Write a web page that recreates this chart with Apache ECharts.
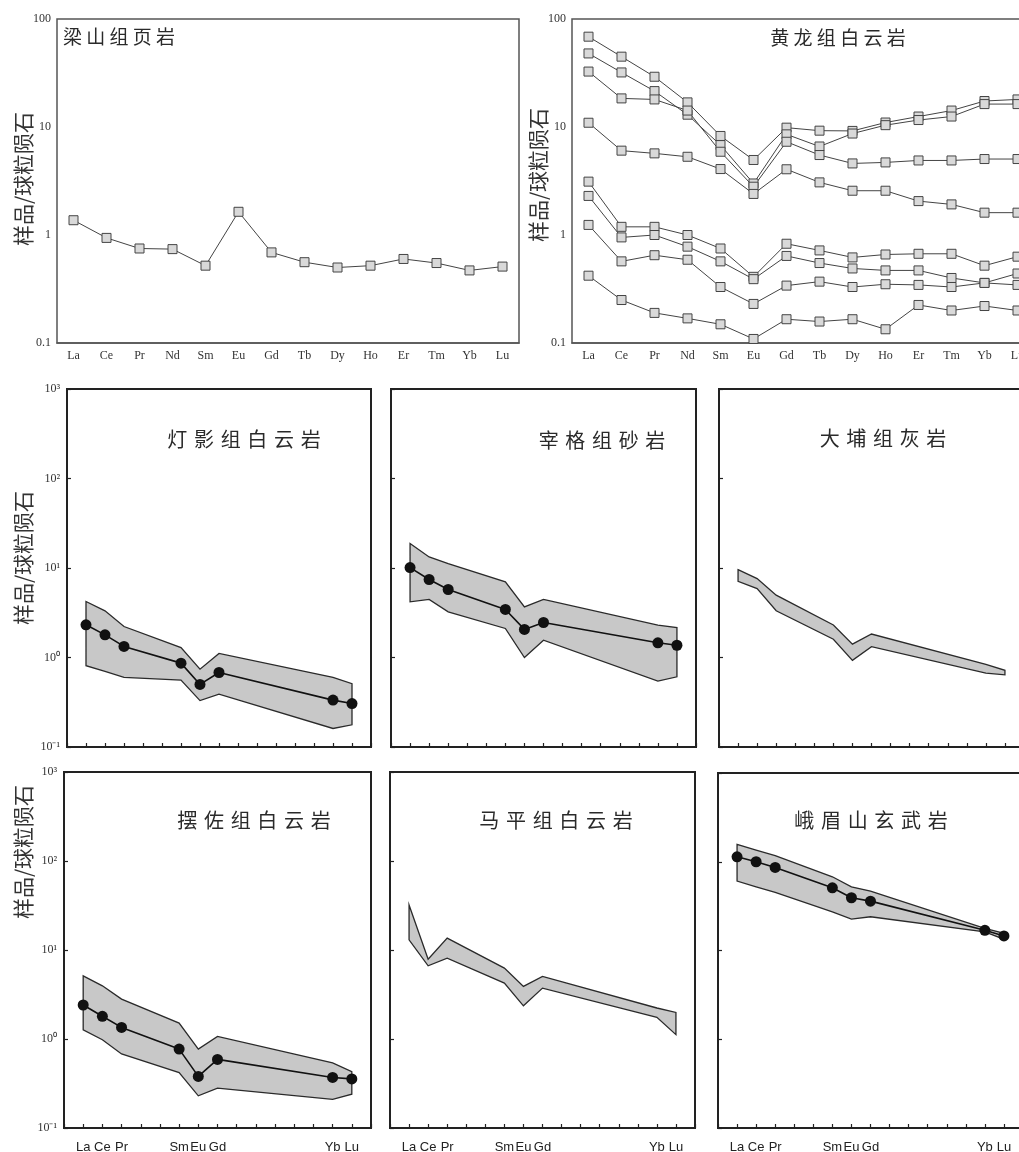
<!DOCTYPE html>
<html><head><meta charset="utf-8">
<script src="https://cdn.jsdelivr.net/npm/echarts@6/dist/echarts.min.js"></script>
<style>html,body{margin:0;padding:0;background:#fff}#c{width:1019px;height:1152px}</style>
</head><body><div id="c"></div>
<script>
// ---------- data ----------
const REE = ['La','Ce','Pr','Nd','Sm','Eu','Gd','Tb','Dy','Ho','Er','Tm','Yb','Lu'];
const topTickLabels = ['0.1','1','10','100'];
const powLabels = ['10\u207B\u00B9','10\u2070','10\u00B9','10\u00B2','10\u00B3'];

const liangshan = [1.37,0.94,0.75,0.74,0.52,1.64,0.69,0.56,0.50,0.52,0.60,0.55,0.47,0.51];

const huanglong1 = [68.6,44.8,29.2,16.9,8.26,4.95,9.86,9.25,9.2,11.0,12.5,14.2,17.4,18.0];
const huanglong2 = [48.0,32.0,21.5,13.0,6.8,3.0,8.55,6.6,8.7,10.4,11.6,12.5,16.3,16.3];
const huanglong3 = [32.6,18.4,18.0,14.2,5.9,2.8,7.3,5.5,4.6,4.7,4.9,4.9,5.05,5.05];
const huanglong4 = [10.95,6.04,5.7,5.3,4.08,2.4,4.06,3.07,2.57,2.57,2.06,1.92,1.61,1.61];
const huanglong5 = [3.12,1.19,1.19,1.0,0.75,0.41,0.83,0.72,0.62,0.66,0.67,0.67,0.52,0.63];
const huanglong6 = [2.30,0.95,1.0,0.78,0.57,0.39,0.64,0.55,0.49,0.47,0.47,0.40,0.36,0.44];
const huanglong7 = [1.24,0.57,0.65,0.59,0.33,0.23,0.34,0.37,0.33,0.35,0.345,0.33,0.36,0.345];
const huanglong8 = [0.42,0.25,0.19,0.169,0.149,0.109,0.166,0.158,0.166,0.134,0.225,0.20,0.22,0.20];

// atomic numbers of the plotted elements and their labels
const bandZ = [57,58,59,62,63,64,70,71];
const bandLabels = ['La','Ce','Pr','Sm','Eu','Gd','Yb','Lu'];

const dengyingMean  = [2.32,1.79,1.33,0.865,0.50,0.68,0.334,0.306];
const dengyingUpper = [4.22,3.32,2.22,1.29,0.74,1.11,0.60,0.51];
const dengyingLower = [0.81,0.70,0.60,0.56,0.33,0.39,0.161,0.177];

const zaigeMean  = [10.1,7.44,5.75,3.44,2.06,2.46,1.46,1.37];
const zaigeUpper = [18.8,13.3,11.2,7.0,3.68,4.45,2.30,2.16];
const zaigeLower = [4.19,4.45,3.24,2.11,1.0,1.56,0.544,0.608];

const dapuUpper = [9.58,7.61,4.97,2.31,1.41,1.83,0.84,0.72];
const dapuLower = [7.11,5.89,3.33,1.60,0.93,1.32,0.67,0.64];

const baizuoMean  = [2.41,1.80,1.35,0.77,0.38,0.59,0.37,0.356];
const baizuoUpper = [5.13,3.96,2.81,1.51,0.77,1.07,0.54,0.43];
const baizuoLower = [1.27,0.98,0.68,0.42,0.23,0.28,0.21,0.24];

const mapingUpper = [32.1,7.89,13.6,6.26,3.9,5.05,2.23,1.99];
const mapingLower = [13.0,6.64,8.09,4.25,2.36,3.73,1.75,1.12];

const emeiMean  = [113.8,100,86.3,50.9,39.3,36.0,16.9,14.6];
const emeiUpper = [157,135,117,67.7,52.2,46.7,17.7,15.6];
const emeiLower = [60.5,52.2,45.1,27.3,22.6,24.0,16.2,13.4];

// ---------- layout ----------
const grids = [
  {left:57,  top:19,  width:462, height:324},
  {left:572, top:19,  width:462, height:324},
  {left:67,  top:389, width:304, height:358},
  {left:391, top:389, width:305, height:358},
  {left:719, top:389, width:305, height:358},
  {left:64,  top:772, width:307, height:356},
  {left:390, top:772, width:305, height:356},
  {left:718, top:773, width:305, height:355}
];

const xAxes = [], yAxes = [];
grids.forEach((g, i) => {
  g.outerBoundsMode = 'none';
  g.containLabel = false;
  if (i < 2) {
    g.show = true; g.borderColor = '#555'; g.borderWidth = 1.5;
    xAxes.push({gridIndex:i, type:'category', data:REE, boundaryGap:true,
      axisLine:{lineStyle:{color:'#555', width:1.5}},
      axisTick:{inside:true, length:3, interval:0, lineStyle:{color:'#555'}},
      axisLabel:{interval:0, fontFamily:'Liberation Serif', fontSize:12, color:'#333', margin:7}});
    yAxes.push({gridIndex:i, type:'log', logBase:10, min:0.1, max:100,
      axisLine:{lineStyle:{color:'#555', width:1.5}},
      axisTick:{show:false}, splitLine:{show:false},
      axisLabel:{fontFamily:'Liberation Serif', fontSize:12, color:'#333', margin:6,
        formatter: v => topTickLabels[Math.round(Math.log10(v)) + 1]}});
  } else {
    g.show = true; g.borderColor = '#222'; g.borderWidth = 2;
    const bottomRow = i >= 5;
    const firstCol = (i === 2 || i === 5);
    xAxes.push({gridIndex:i, type:'value', min:56, max:72, interval:1,
      axisLine:{lineStyle:{color:'#222', width:2}},
      axisTick:{inside:true, length:4, lineStyle:{color:'#222', width:1.2}},
      splitLine:{show:false},
      axisLabel:{show:bottomRow, fontFamily:'Liberation Sans', fontSize:13, color:'#222', margin:13,
        formatter: v => { const k = bandZ.indexOf(v); return k >= 0 ? bandLabels[k] : ''; }}});
    yAxes.push({gridIndex:i, type:'log', logBase:10, min:0.1, max:1000,
      axisLine:{lineStyle:{color:'#222', width:2}},
      axisTick:{inside:true, length:4, lineStyle:{color:'#222', width:1.2}},
      splitLine:{show:false},
      axisLabel:{show:firstCol, fontFamily:'Liberation Serif', fontSize:12, color:'#333', margin:7,
        formatter: v => powLabels[Math.round(Math.log10(v)) + 1]}});
  }
});

const series = [];
function squareLine(gi, arr) {
  series.push({type:'line', xAxisIndex:gi, yAxisIndex:gi, data:arr,
    symbol:'rect', symbolSize:9, showSymbol:true,
    lineStyle:{color:'#444', width:1},
    itemStyle:{color:'#d9d9d9', borderColor:'#444', borderWidth:1},
    emphasis:{disabled:true}, z:3, animation:false});
}
function band(gi, upper, lower) {
  series.push({type:'custom', xAxisIndex:gi, yAxisIndex:gi, coordinateSystem:'cartesian2d',
    data: bandZ.map((z, k) => [z, upper[k], lower[k]]),
    encode:{x:0, y:[1,2]}, z:2, animation:false, silent:true,
    renderItem: (params, api) => {
      if (params.dataIndexInside !== 0) return null;
      const n = params.dataInsideLength, pts = [];
      for (let k = 0; k < n; k++) pts.push(api.coord([api.value(0, k), api.value(1, k)]));
      for (let k = n - 1; k >= 0; k--) pts.push(api.coord([api.value(0, k), api.value(2, k)]));
      return {type:'polygon', shape:{points:pts},
        style:{fill:'#c8c8c8', stroke:'#2a2a2a', lineWidth:1.3}};
    }});
}
function meanLine(gi, arr) {
  series.push({type:'line', xAxisIndex:gi, yAxisIndex:gi,
    data: bandZ.map((z, k) => [z, arr[k]]),
    symbol:'circle', symbolSize:11, showSymbol:true,
    lineStyle:{color:'#111', width:1.6},
    itemStyle:{color:'#111'}, emphasis:{disabled:true}, z:4, animation:false});
}

squareLine(0, liangshan);
[huanglong1,huanglong2,huanglong3,huanglong4,huanglong5,huanglong6,huanglong7,huanglong8]
  .forEach(a => squareLine(1, a));
band(2, dengyingUpper, dengyingLower); meanLine(2, dengyingMean);
band(3, zaigeUpper, zaigeLower);       meanLine(3, zaigeMean);
band(4, dapuUpper, dapuLower);
band(5, baizuoUpper, baizuoLower);     meanLine(5, baizuoMean);
band(6, mapingUpper, mapingLower);
band(7, emeiUpper, emeiLower);         meanLine(7, emeiMean);

// ---------- texts ----------
const sp = '\u2004';
function title(text, x, y, size, align, gap) {
  return {type:'text', x:x, y:y, silent:true, z:10,
    style:{text: text.split('').join(gap), fontFamily:'Noto Sans CJK SC', fontSize:size,
      fill:'#2a2a2a', align:align, textAlign:align, verticalAlign:'middle', textVerticalAlign:'middle'}};
}
function yName(x, y) {
  return {type:'text', x:x, y:y, rotation:Math.PI/2, silent:true, z:10,
    style:{text:'样品/球粒陨石', fontFamily:'Noto Sans CJK SC', fontSize:21, fill:'#333',
      align:'center', textAlign:'center', verticalAlign:'middle', textVerticalAlign:'middle'}};
}
const graphics = [
  title('梁山组页岩', 63, 37, 19, 'left', ' '),
  title('黄龙组白云岩', 838, 38, 19, 'center', ' '),
  title('灯影组白云岩', 244, 439, 20, 'center', sp),
  title('宰格组砂岩', 602, 440, 20, 'center', sp),
  title('大埔组灰岩', 883, 438, 20, 'center', sp),
  title('摆佐组白云岩', 254, 820, 20, 'center', sp),
  title('马平组白云岩', 556, 820, 20, 'center', sp),
  title('峨眉山玄武岩', 871, 820, 20, 'center', sp),
  yName(23, 179), yName(538, 175), yName(23, 558), yName(23, 852)
];

const chart = echarts.init(document.getElementById('c'), null, {renderer:'canvas'});
chart.setOption({
  animation:false,
  backgroundColor:'#fff',
  grid: grids, xAxis: xAxes, yAxis: yAxes, series: series, graphic: graphics
});
</script>
</body></html>
